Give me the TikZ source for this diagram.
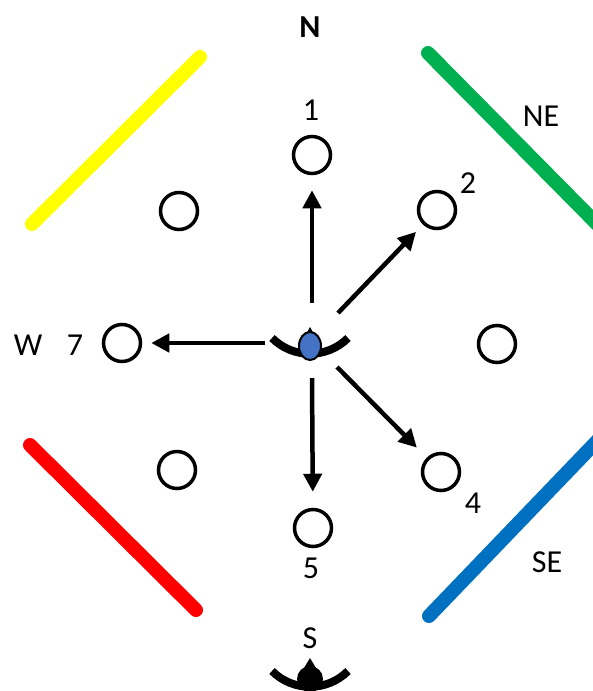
\documentclass[tikz,border=0pt]{standalone}
\usepackage{fontspec}
\setmainfont{Carlito}
\usetikzlibrary{arrows.meta,shapes.geometric}

\begin{document}
\begin{tikzpicture}[x=1pt, y=-1pt,
      font=\fontsize{32}{36}\selectfont,
      spot/.style={circle, draw, line width=3.5pt, minimum size=37pt, inner sep=0pt},
      wall/.style={line width=14pt, line cap=round},
      lbl/.style={inner sep=0pt},
      shot/.style={line width=4.5pt, -{Triangle[length=18pt,width=18pt]}},
      bow/.style={line width=8pt}]

    \useasboundingbox (0,0) rectangle (592,691);

    \definecolor{wallyellow}{RGB}{255,255,0}
    \definecolor{wallgreen}{RGB}{0,176,80}
    \definecolor{wallred}{RGB}{255,0,0}
    \definecolor{wallblue}{RGB}{0,112,192}
    \definecolor{hubblue}{RGB}{68,114,196}

    \draw[wall, wallyellow] (200,57) -- (32,224);
    \draw[wall, wallgreen] (428,53) -- (600,227);
    \draw[wall, wallred] (30,445) -- (196,610);
    \draw[wall, wallblue] (429,616) -- (600,438);

    \node[lbl, font=\fontsize{32}{36}\selectfont\bfseries] (north) at (310,27) {N};
    \node[lbl] (ne) at (541,116) {NE};
    \node[lbl] (west) at (28,345) {W};
    \node[lbl] (se) at (547,562) {SE};
    \node[lbl] (south) at (310,638) {S};

    \node[spot] (s1) at (312,155) {};
    \node[spot] (s2) at (437,210) {};
    \node[spot] (s3) at (179,211) {};
    \node[spot] (s7) at (122,343) {};
    \node[spot] (s6) at (497,344) {};
    \node[spot] (s8) at (177,470) {};
    \node[spot] (s4) at (441,472) {};
    \node[spot] (s5) at (313,528) {};

    \node[lbl] (n1) at (311,110) {1};
    \node[lbl] (n2) at (468,183) {2};
    \node[lbl] (n7) at (75,345) {7};
    \node[lbl] (n4) at (473,503) {4};
    \node[lbl] (n5) at (311,568) {5};

    \draw[bow] (272,338) .. controls (293,359) and (327,359) .. (348,338);
    \fill (305,336) -- (310,327) -- (315,336) -- cycle;
    \node[ellipse, draw, line width=2pt, fill=hubblue, minimum width=22pt,
          minimum height=28pt, inner sep=0pt] (hub) at (310,346) {};

    \draw[bow] (272,671) .. controls (293,692) and (327,692) .. (348,671);
    \fill (304,668) -- (310,658) -- (316,668) -- cycle;
    \node[circle, fill, minimum size=26pt, inner sep=0pt] (base) at (310,679) {};

    \coordinate (t1) at (312,303);
    \coordinate (t2) at (338,313);
    \coordinate (t7) at (265,343);
    \coordinate (t4) at (337,367);
    \coordinate (t5) at (312,378);

    \draw[shot, shorten >=15pt] (t1) -- (s1);
    \draw[shot, shorten >=10pt] (t2) -- (s2);
    \draw[shot, shorten >=9pt] (t7) -- (s7);
    \draw[shot, shorten >=14pt] (t4) -- (s4);
    \draw[shot, shorten >=16pt] (t5) -- (s5);
  \end{tikzpicture}
\end{document}
